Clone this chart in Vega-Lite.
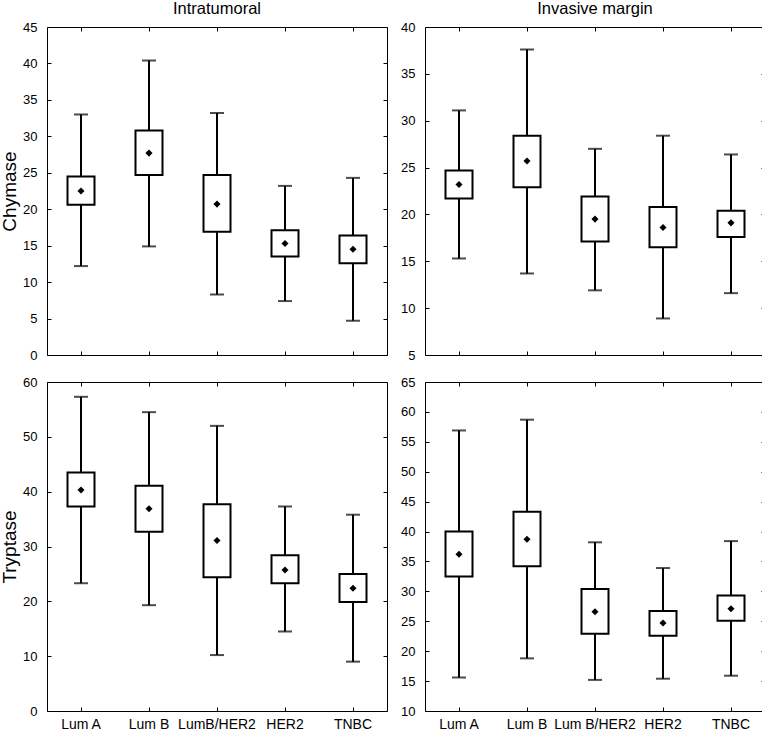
{
  "$schema": "https://vega.github.io/schema/vega-lite/v6.json",
  "padding": {"left": 0, "top": 0, "right": 0, "bottom": 0},
  "background": "white",
  "datasets": {
    "d": [
      {"region": "Intratumoral", "enzyme": "Chymase", "group": "Lum A", "low": 12.2, "q1": 20.6, "mean": 22.5, "q3": 24.5, "high": 33.0},
      {"region": "Intratumoral", "enzyme": "Chymase", "group": "Lum B", "low": 14.9, "q1": 24.7, "mean": 27.7, "q3": 30.8, "high": 40.4},
      {"region": "Intratumoral", "enzyme": "Chymase", "group": "LumB/HER2", "low": 8.3, "q1": 16.9, "mean": 20.7, "q3": 24.7, "high": 33.2},
      {"region": "Intratumoral", "enzyme": "Chymase", "group": "HER2", "low": 7.4, "q1": 13.5, "mean": 15.3, "q3": 17.1, "high": 23.2},
      {"region": "Intratumoral", "enzyme": "Chymase", "group": "TNBC", "low": 4.7, "q1": 12.6, "mean": 14.5, "q3": 16.4, "high": 24.3},
      {"region": "Invasive margin", "enzyme": "Chymase", "group": "Lum A", "low": 15.3, "q1": 21.7, "mean": 23.2, "q3": 24.7, "high": 31.1},
      {"region": "Invasive margin", "enzyme": "Chymase", "group": "Lum B", "low": 13.7, "q1": 22.9, "mean": 25.7, "q3": 28.4, "high": 37.6},
      {"region": "Invasive margin", "enzyme": "Chymase", "group": "Lum B/HER2", "low": 11.9, "q1": 17.1, "mean": 19.5, "q3": 21.9, "high": 27.0},
      {"region": "Invasive margin", "enzyme": "Chymase", "group": "HER2", "low": 8.9, "q1": 16.5, "mean": 18.6, "q3": 20.8, "high": 28.4},
      {"region": "Invasive margin", "enzyme": "Chymase", "group": "TNBC", "low": 11.6, "q1": 17.6, "mean": 19.1, "q3": 20.4, "high": 26.4},
      {"region": "Intratumoral", "enzyme": "Tryptase", "group": "Lum A", "low": 23.3, "q1": 37.3, "mean": 40.3, "q3": 43.5, "high": 57.3},
      {"region": "Intratumoral", "enzyme": "Tryptase", "group": "Lum B", "low": 19.3, "q1": 32.7, "mean": 36.9, "q3": 41.1, "high": 54.5},
      {"region": "Intratumoral", "enzyme": "Tryptase", "group": "LumB/HER2", "low": 10.2, "q1": 24.4, "mean": 31.1, "q3": 37.7, "high": 52.0},
      {"region": "Intratumoral", "enzyme": "Tryptase", "group": "HER2", "low": 14.5, "q1": 23.3, "mean": 25.7, "q3": 28.4, "high": 37.3},
      {"region": "Intratumoral", "enzyme": "Tryptase", "group": "TNBC", "low": 9.0, "q1": 19.9, "mean": 22.4, "q3": 25.0, "high": 35.8},
      {"region": "Invasive margin", "enzyme": "Tryptase", "group": "Lum A", "low": 15.6, "q1": 32.5, "mean": 36.2, "q3": 40.0, "high": 56.9},
      {"region": "Invasive margin", "enzyme": "Tryptase", "group": "Lum B", "low": 18.8, "q1": 34.2, "mean": 38.7, "q3": 43.3, "high": 58.7},
      {"region": "Invasive margin", "enzyme": "Tryptase", "group": "Lum B/HER2", "low": 15.2, "q1": 22.9, "mean": 26.6, "q3": 30.4, "high": 38.2},
      {"region": "Invasive margin", "enzyme": "Tryptase", "group": "HER2", "low": 15.4, "q1": 22.6, "mean": 24.7, "q3": 26.7, "high": 33.9},
      {"region": "Invasive margin", "enzyme": "Tryptase", "group": "TNBC", "low": 15.9, "q1": 25.1, "mean": 27.1, "q3": 29.3, "high": 38.4}
    ]
  },
  "vconcat": [
    {
      "hconcat": [
        {
          "width": 340, "height": 328,
          "title": "Intratumoral",
          "data": {"name": "d"},
          "transform": [{"filter": "datum.region == 'Intratumoral' && datum.enzyme == 'Chymase'"}],
          "layer": [
            {"mark": {"type": "rule", "color": "black", "strokeWidth": 2},
             "encoding": {
               "x": {"field": "group", "type": "nominal", "sort": ["Lum A", "Lum B", "LumB/HER2", "HER2", "TNBC"], "scale": {"paddingInner": 0, "paddingOuter": 0}, "axis": {"orient": "bottom", "labels": false, "title": null}},
               "y": {"field": "low", "type": "quantitative", "scale": {"domain": [0, 45], "nice": false, "zero": false}, "axis": {"orient": "left", "title": "Chymase", "values": [0, 5, 10, 15, 20, 25, 30, 35, 40, 45]}},
               "y2": {"field": "high"}}},
            {"mark": {"type": "tick", "color": "black", "thickness": 2, "size": 14},
             "encoding": {
               "x": {"field": "group", "type": "nominal", "sort": ["Lum A", "Lum B", "LumB/HER2", "HER2", "TNBC"], "scale": {"paddingInner": 0, "paddingOuter": 0}, "axis": {"orient": "top", "labels": false, "title": null}},
               "y": {"field": "low", "type": "quantitative", "scale": {"domain": [0, 45], "nice": false, "zero": false}, "axis": {"orient": "right", "labels": false, "title": null, "values": [0, 5, 10, 15, 20, 25, 30, 35, 40, 45]}}}},
            {"mark": {"type": "tick", "color": "black", "thickness": 2, "size": 14},
             "encoding": {
               "x": {"field": "group", "type": "nominal", "sort": ["Lum A", "Lum B", "LumB/HER2", "HER2", "TNBC"], "axis": null},
               "y": {"field": "high", "type": "quantitative", "axis": null}}},
            {"mark": {"type": "bar", "fill": "white", "stroke": "black", "strokeWidth": 2, "width": 27},
             "encoding": {
               "x": {"field": "group", "type": "nominal", "sort": ["Lum A", "Lum B", "LumB/HER2", "HER2", "TNBC"], "axis": null},
               "y": {"field": "q1", "type": "quantitative", "axis": null},
               "y2": {"field": "q3"}}},
            {"mark": {"type": "point", "shape": "diamond", "filled": true, "color": "black", "size": 50, "opacity": 1},
             "encoding": {
               "x": {"field": "group", "type": "nominal", "sort": ["Lum A", "Lum B", "LumB/HER2", "HER2", "TNBC"], "axis": null},
               "y": {"field": "mean", "type": "quantitative", "axis": null}}}
          ],
          "resolve": {"axis": {"x": "independent", "y": "independent"}}
        },
        {
          "width": 340, "height": 328,
          "title": "Invasive margin",
          "data": {"name": "d"},
          "transform": [{"filter": "datum.region == 'Invasive margin' && datum.enzyme == 'Chymase'"}],
          "layer": [
            {"mark": {"type": "rule", "color": "black", "strokeWidth": 2},
             "encoding": {
               "x": {"field": "group", "type": "nominal", "sort": ["Lum A", "Lum B", "Lum B/HER2", "HER2", "TNBC"], "scale": {"paddingInner": 0, "paddingOuter": 0}, "axis": {"orient": "bottom", "labels": false, "title": null}},
               "y": {"field": "low", "type": "quantitative", "scale": {"domain": [5, 40], "nice": false, "zero": false}, "axis": {"orient": "left", "title": null, "values": [5, 10, 15, 20, 25, 30, 35, 40]}},
               "y2": {"field": "high"}}},
            {"mark": {"type": "tick", "color": "black", "thickness": 2, "size": 14},
             "encoding": {
               "x": {"field": "group", "type": "nominal", "sort": ["Lum A", "Lum B", "Lum B/HER2", "HER2", "TNBC"], "scale": {"paddingInner": 0, "paddingOuter": 0}, "axis": {"orient": "top", "labels": false, "title": null}},
               "y": {"field": "low", "type": "quantitative", "scale": {"domain": [5, 40], "nice": false, "zero": false}, "axis": {"orient": "right", "labels": false, "title": null, "values": [5, 10, 15, 20, 25, 30, 35, 40]}}}},
            {"mark": {"type": "tick", "color": "black", "thickness": 2, "size": 14},
             "encoding": {
               "x": {"field": "group", "type": "nominal", "sort": ["Lum A", "Lum B", "Lum B/HER2", "HER2", "TNBC"], "axis": null},
               "y": {"field": "high", "type": "quantitative", "axis": null}}},
            {"mark": {"type": "bar", "fill": "white", "stroke": "black", "strokeWidth": 2, "width": 27},
             "encoding": {
               "x": {"field": "group", "type": "nominal", "sort": ["Lum A", "Lum B", "Lum B/HER2", "HER2", "TNBC"], "axis": null},
               "y": {"field": "q1", "type": "quantitative", "axis": null},
               "y2": {"field": "q3"}}},
            {"mark": {"type": "point", "shape": "diamond", "filled": true, "color": "black", "size": 50, "opacity": 1},
             "encoding": {
               "x": {"field": "group", "type": "nominal", "sort": ["Lum A", "Lum B", "Lum B/HER2", "HER2", "TNBC"], "axis": null},
               "y": {"field": "mean", "type": "quantitative", "axis": null}}}
          ],
          "resolve": {"axis": {"x": "independent", "y": "independent"}}
        }
      ]
    },
    {
      "hconcat": [
        {
          "width": 340, "height": 329,
          "data": {"name": "d"},
          "transform": [{"filter": "datum.region == 'Intratumoral' && datum.enzyme == 'Tryptase'"}],
          "layer": [
            {"mark": {"type": "rule", "color": "black", "strokeWidth": 2},
             "encoding": {
               "x": {"field": "group", "type": "nominal", "sort": ["Lum A", "Lum B", "LumB/HER2", "HER2", "TNBC"], "scale": {"paddingInner": 0, "paddingOuter": 0}, "axis": {"orient": "bottom", "title": null, "labelAngle": 0}},
               "y": {"field": "low", "type": "quantitative", "scale": {"domain": [0, 60], "nice": false, "zero": false}, "axis": {"orient": "left", "title": "Tryptase", "values": [0, 10, 20, 30, 40, 50, 60]}},
               "y2": {"field": "high"}}},
            {"mark": {"type": "tick", "color": "black", "thickness": 2, "size": 14},
             "encoding": {
               "x": {"field": "group", "type": "nominal", "sort": ["Lum A", "Lum B", "LumB/HER2", "HER2", "TNBC"], "scale": {"paddingInner": 0, "paddingOuter": 0}, "axis": {"orient": "top", "labels": false, "title": null}},
               "y": {"field": "low", "type": "quantitative", "scale": {"domain": [0, 60], "nice": false, "zero": false}, "axis": {"orient": "right", "labels": false, "title": null, "values": [0, 10, 20, 30, 40, 50, 60]}}}},
            {"mark": {"type": "tick", "color": "black", "thickness": 2, "size": 14},
             "encoding": {
               "x": {"field": "group", "type": "nominal", "sort": ["Lum A", "Lum B", "LumB/HER2", "HER2", "TNBC"], "axis": null},
               "y": {"field": "high", "type": "quantitative", "axis": null}}},
            {"mark": {"type": "bar", "fill": "white", "stroke": "black", "strokeWidth": 2, "width": 27},
             "encoding": {
               "x": {"field": "group", "type": "nominal", "sort": ["Lum A", "Lum B", "LumB/HER2", "HER2", "TNBC"], "axis": null},
               "y": {"field": "q1", "type": "quantitative", "axis": null},
               "y2": {"field": "q3"}}},
            {"mark": {"type": "point", "shape": "diamond", "filled": true, "color": "black", "size": 50, "opacity": 1},
             "encoding": {
               "x": {"field": "group", "type": "nominal", "sort": ["Lum A", "Lum B", "LumB/HER2", "HER2", "TNBC"], "axis": null},
               "y": {"field": "mean", "type": "quantitative", "axis": null}}}
          ],
          "resolve": {"axis": {"x": "independent", "y": "independent"}}
        },
        {
          "width": 340, "height": 329,
          "data": {"name": "d"},
          "transform": [{"filter": "datum.region == 'Invasive margin' && datum.enzyme == 'Tryptase'"}],
          "layer": [
            {"mark": {"type": "rule", "color": "black", "strokeWidth": 2},
             "encoding": {
               "x": {"field": "group", "type": "nominal", "sort": ["Lum A", "Lum B", "Lum B/HER2", "HER2", "TNBC"], "scale": {"paddingInner": 0, "paddingOuter": 0}, "axis": {"orient": "bottom", "title": null, "labelAngle": 0}},
               "y": {"field": "low", "type": "quantitative", "scale": {"domain": [10, 65], "nice": false, "zero": false}, "axis": {"orient": "left", "title": null, "values": [10, 15, 20, 25, 30, 35, 40, 45, 50, 55, 60, 65]}},
               "y2": {"field": "high"}}},
            {"mark": {"type": "tick", "color": "black", "thickness": 2, "size": 14},
             "encoding": {
               "x": {"field": "group", "type": "nominal", "sort": ["Lum A", "Lum B", "Lum B/HER2", "HER2", "TNBC"], "scale": {"paddingInner": 0, "paddingOuter": 0}, "axis": {"orient": "top", "labels": false, "title": null}},
               "y": {"field": "low", "type": "quantitative", "scale": {"domain": [10, 65], "nice": false, "zero": false}, "axis": {"orient": "right", "labels": false, "title": null, "values": [10, 15, 20, 25, 30, 35, 40, 45, 50, 55, 60, 65]}}}},
            {"mark": {"type": "tick", "color": "black", "thickness": 2, "size": 14},
             "encoding": {
               "x": {"field": "group", "type": "nominal", "sort": ["Lum A", "Lum B", "Lum B/HER2", "HER2", "TNBC"], "axis": null},
               "y": {"field": "high", "type": "quantitative", "axis": null}}},
            {"mark": {"type": "bar", "fill": "white", "stroke": "black", "strokeWidth": 2, "width": 27},
             "encoding": {
               "x": {"field": "group", "type": "nominal", "sort": ["Lum A", "Lum B", "Lum B/HER2", "HER2", "TNBC"], "axis": null},
               "y": {"field": "q1", "type": "quantitative", "axis": null},
               "y2": {"field": "q3"}}},
            {"mark": {"type": "point", "shape": "diamond", "filled": true, "color": "black", "size": 50, "opacity": 1},
             "encoding": {
               "x": {"field": "group", "type": "nominal", "sort": ["Lum A", "Lum B", "Lum B/HER2", "HER2", "TNBC"], "axis": null},
               "y": {"field": "mean", "type": "quantitative", "axis": null}}}
          ],
          "resolve": {"axis": {"x": "independent", "y": "independent"}}
        }
      ]
    }
  ],
  "spacing": 12,
  "config": {
    "concat": {"spacing": 12},
    "view": {"stroke": "black", "strokeWidth": 1},
    "axis": {
      "grid": false, "domain": false, "tickColor": "black", "tickSize": -4, "tickWidth": 1,
      "labelFont": "Liberation Sans", "labelFontSize": 13, "labelColor": "black", "labelPadding": 14,
      "labelOverlap": false, "labelBound": false, "labelFlush": false,
      "titleFont": "Liberation Sans", "titleFontSize": 19, "titleFontWeight": "normal", "titleColor": "black", "titlePadding": 3
    },
    "axisX": {"labelFontSize": 14, "labelPadding": 10},
    "title": {"font": "Liberation Sans", "fontSize": 16.5, "fontWeight": "normal", "color": "black", "offset": 4}
  }
}
